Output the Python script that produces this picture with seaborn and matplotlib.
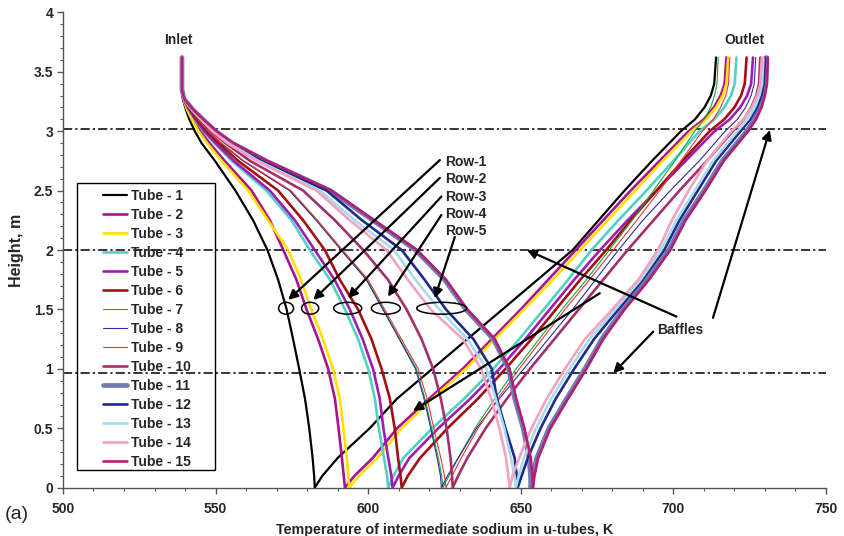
import numpy as np
import pandas as pd
import matplotlib
matplotlib.use("Agg")
import matplotlib.pyplot as plt
import seaborn as sns
from matplotlib.patches import Ellipse, Rectangle

# =========================================================
# DATA
# =========================================================
# heights for the inlet (down) leg and outlet (up) leg, m
h_down = [3.62, 3.35, 3.27, 3.18, 3.1, 3.0, 2.9, 2.75, 2.5, 2.25, 2.0, 1.75, 1.5, 1.25, 1.0, 0.75, 0.5, 0.25, 0.1, 0.0]
h_up = [0.0, 0.1, 0.25, 0.5, 0.75, 1.0, 1.25, 1.5, 1.75, 2.0, 2.25, 2.5, 2.75, 3.0, 3.1, 3.2, 3.3, 3.4, 3.62]

tube_names = ["Tube - %d" % i for i in range(1, 16)]

# inlet leg temperatures, K
t_down = {
    "Tube - 1": [539, 539, 539.3, 540.3, 541.4, 543.2, 545.4, 549.8, 556.5, 562.3, 567, 570.5, 573.3, 575.4, 577.4, 579.3, 580.7, 581.8, 582.3, 582.5],
    "Tube - 2": [539, 539, 539.4, 540.9, 542.6, 545, 548, 553, 561.8, 567.8, 572.2, 576.5, 579.8, 583.6, 586.9, 589.1, 590.3, 591.4, 592, 592.4],
    "Tube - 3": [539, 539, 539.4, 540.7, 542.2, 544.4, 547.2, 552, 560.7, 567.2, 573.8, 578, 581.4, 585.2, 588.5, 590.7, 591.9, 593, 593.5, 593.8],
    "Tube - 4": [539, 539, 539.5, 541.2, 543.2, 546, 549.5, 555.3, 566.7, 574.9, 580.9, 587.5, 592.4, 596.7, 600, 602.2, 603.5, 605.2, 606.2, 606.6],
    "Tube - 5": [539, 539, 539.5, 541.4, 543.4, 546.3, 550, 556, 567.8, 576, 582.5, 589, 594, 598.2, 601.6, 603.8, 605, 606.6, 607.6, 608],
    "Tube - 6": [539, 539, 539.5, 541.6, 543.9, 547, 551, 557.4, 570.5, 578.7, 585.8, 590.7, 596.7, 601.1, 604.4, 607.1, 608.7, 609.8, 610.6, 611],
    "Tube - 7": [539, 539, 539.5, 541.8, 544.2, 547.5, 551.7, 559, 574.4, 583.1, 591.3, 599.6, 605, 610.4, 615.8, 618.6, 620.8, 623, 624.1, 624.5],
    "Tube - 8": [539, 539, 539.5, 541.8, 544.2, 547.5, 551.7, 559, 574.2, 583, 591.1, 599.4, 604.8, 610.2, 615.5, 618.3, 620.5, 622.6, 623.7, 624],
    "Tube - 9": [539, 539, 539.5, 541.8, 544.3, 547.7, 551.9, 559.3, 574.7, 583.4, 591.6, 600, 605.4, 610.9, 616.4, 619.3, 621.5, 623.8, 625, 625.5],
    "Tube - 10": [539, 539, 539.6, 542.1, 544.9, 548.5, 553.2, 561.3, 578.7, 589.1, 598.4, 606.5, 612.6, 617.5, 621.3, 623.8, 625.7, 627, 627.5, 627.7],
    "Tube - 11": [539, 539, 539.7, 542.6, 545.8, 550, 555.4, 566.5, 587.5, 601.5, 615.5, 625, 632, 641, 646, 648, 650.8, 652.7, 653.2, 653.3],
    "Tube - 12": [539, 539, 539.7, 542.5, 545.7, 549.8, 555.1, 565, 586.4, 598, 611, 618.5, 625.5, 634.5, 640.5, 642.2, 645, 648, 648.7, 649],
    "Tube - 13": [539, 539, 539.65, 542.4, 545.4, 549.3, 554.4, 564, 584.2, 595.6, 608.5, 615.5, 623.3, 632.5, 638.8, 641.8, 644.6, 646.8, 647.9, 648.4],
    "Tube - 14": [539, 539, 539.6, 542.3, 545.2, 549, 553.9, 563.4, 583.1, 594, 606, 613, 620.5, 631, 637, 640.3, 643, 645.2, 645.9, 646.4],
    "Tube - 15": [539, 539, 539.7, 542.7, 546, 550.3, 555.8, 567, 588, 602, 616, 625.5, 632.5, 641.5, 646.3, 648.5, 651.2, 653.3, 653.8, 654],
}

# outlet leg temperatures, K
t_up = {
    "Tube - 1": [582.5, 585, 590, 600.5, 609.5, 621, 632.5, 644, 655.5, 667, 675.5, 684, 693, 702.5, 707.1, 710.2, 712.3, 713.4, 714],
    "Tube - 2": [592.4, 595.5, 601.5, 609.5, 620, 631, 640.5, 650, 659, 668, 677, 686, 695.5, 705, 710.0, 713.3, 715.5, 716.8, 717.4],
    "Tube - 3": [593.8, 597, 603, 611, 621, 632, 641.5, 651, 660.5, 669.5, 678.5, 687.5, 696.5, 706, 710.8, 714.0, 716.2, 717.4, 718],
    "Tube - 4": [606.6, 608.3, 611.5, 621, 631.5, 641, 649.5, 657.5, 665.5, 673.2, 682, 691.2, 700, 708.6, 713.4, 716.7, 718.9, 720.1, 720.7],
    "Tube - 5": [608, 610, 613.5, 623, 633.5, 643, 651.5, 659.5, 667.5, 676, 685, 694.5, 704, 713.5, 718.5, 721.9, 724.2, 725.5, 726.1],
    "Tube - 6": [611, 613, 617, 626, 636, 645, 653.5, 661.5, 669.5, 678, 686, 694.5, 703, 711.9, 716.7, 720.0, 722.2, 723.4, 724],
    "Tube - 7": [624.5, 626.5, 629.5, 635, 641.5, 648.5, 656, 663.5, 671.5, 679, 686.5, 693.5, 700.5, 707, 710.1, 712.2, 713.5, 714.3, 714.7],
    "Tube - 8": [624, 626, 629.5, 635.5, 643, 651, 659, 667, 674.5, 682, 690, 699, 708.5, 717, 721.0, 723.7, 725.5, 726.5, 727],
    "Tube - 9": [625.5, 627.5, 630.5, 636, 642.5, 649.5, 657, 664.5, 672.5, 680.3, 688, 695.5, 702.5, 709.5, 713.1, 715.5, 717.2, 718.1, 718.5],
    "Tube - 10": [627.7, 629.5, 632.5, 638.5, 645.5, 653, 661, 669, 677, 685, 693.5, 702, 711, 719.5, 723.1, 725.5, 727.2, 728.1, 728.5],
    "Tube - 11": [653.3, 654, 655.2, 659.2, 665, 671, 676.5, 683.5, 691.5, 698.5, 703.5, 710, 716, 724, 726.6, 728.4, 729.5, 730.2, 730.5],
    "Tube - 12": [649, 650.3, 652.3, 656.5, 661.5, 667.5, 674, 682, 690, 697, 702, 708, 714, 722, 725.2, 727.4, 728.8, 729.6, 730],
    "Tube - 13": [648.4, 649.3, 651, 655, 660, 666, 672.5, 681, 689.3, 696, 701, 707, 713, 721, 724.4, 726.7, 728.2, 729.1, 729.5],
    "Tube - 14": [646.4, 647.3, 649.5, 653.5, 658.5, 664.5, 671, 680, 688.5, 695, 699.5, 705, 711, 719, 723.0, 725.7, 727.5, 728.5, 729],
    "Tube - 15": [654, 654.5, 655.7, 659.7, 665.5, 671.5, 677, 684, 692, 699, 704, 710.5, 716.5, 724.5, 727.1, 728.9, 730.0, 730.7, 731],
}

tube_colors = ["#000000", "#A8138F", "#FFE000", "#52D0C6", "#9E1CB4", "#A30F12", "#18A63A", "#2A2F9C",
               "#E3383C", "#A2306C", "#6F7DB2", "#1E2A8E", "#A8DCEC", "#F2A2C2", "#B31F72"]
tube_widths = [1.6, 1.9, 1.9, 1.9, 1.9, 1.9, 0.8, 0.8, 0.8, 1.9, 3.4, 1.9, 1.9, 1.9, 1.9]

baffle_heights = [3.02, 2.0, 0.965]
row_labels = ["Row-1", "Row-2", "Row-3", "Row-4", "Row-5"]

# =========================================================
# BUILD LONG TABLE (down leg then up leg, one path per tube)
# =========================================================
rows = []
for name in tube_names:
    path_t = t_down[name] + t_up[name]
    path_h = h_down + h_up
    for k, (t, h) in enumerate(zip(path_t, path_h)):
        rows.append({"tube": name, "step": k, "T": t, "h": h})
df = pd.DataFrame(rows)

# =========================================================
# PLOT
# =========================================================
sns.set_style("ticks")
plt.rcParams["font.family"] = ["Liberation Sans", "DejaVu Sans"]
plt.rcParams["font.weight"] = "bold"

fig = plt.figure(figsize=(8.44, 5.36), dpi=100)
ax = fig.add_axes([0.0746, 0.0901, 0.9040, 0.8869])

for name, col, lw in zip(tube_names, tube_colors, tube_widths):
    sns.lineplot(data=df[df["tube"] == name], x="T", y="h", sort=False, estimator=None,
                 color=col, linewidth=lw, label=name, ax=ax)

# baffles
for hb in baffle_heights:
    ax.axhline(hb, color="black", lw=1.1, linestyle=(0, (6, 2, 1.5, 2)), zorder=1)

# row circles at h = 1.5
circles = [(573.1, 4.9), (581.0, 5.6), (593.3, 9.2), (605.8, 9.5), (624.1, 16.4)]
for cx, w in circles:
    ax.add_patch(Ellipse((cx, 1.51), w, 0.10, fill=False, edgecolor="black", lw=1.1, zorder=5))

# row labels with arrows
row_text_h = [2.744, 2.596, 2.45, 2.304, 2.158]
row_heads = [(573.8, 1.58), (582.0, 1.58), (593.4, 1.594), (606.5, 1.608), (621.8, 1.594)]
row_tails = [(623.5, 2.757), (623.5, 2.607), (624.0, 2.45), (624.0, 2.295), (628.4, 2.11)]
for lab, th, head, tail in zip(row_labels, row_text_h, row_heads, row_tails):
    ax.text(625.2, th, lab, fontsize=10, fontweight="bold", va="center", ha="left")
    ax.annotate("", xy=head, xytext=tail,
                arrowprops=dict(arrowstyle="-|>", color="black", lw=1.6,
                                mutation_scale=14, shrinkA=0, shrinkB=0))

# baffles label with arrows
ax.text(702.4, 1.326, "Baffles", fontsize=10, fontweight="bold", va="center", ha="center")
baffle_arrows = [((701.0, 1.44), (652.0, 2.0)), ((693.4, 1.313), (680.3, 0.963)),
                 ((713.0, 1.43), (731.6, 3.01)), ((675.9, 1.636), (614.7, 0.646))]
for tail, head in baffle_arrows:
    ax.annotate("", xy=head, xytext=tail,
                arrowprops=dict(arrowstyle="-|>", color="black", lw=1.6,
                                mutation_scale=14, shrinkA=0, shrinkB=0))

ax.text(537.7, 3.77, "Inlet", fontsize=10, fontweight="bold", ha="center", va="center")
ax.text(723.4, 3.77, "Outlet", fontsize=10, fontweight="bold", ha="center", va="center")

# axes
ax.set_xlim(500, 750)
ax.set_ylim(0, 4)
ax.set_xticks(np.arange(500, 751, 50))
ax.set_xticks(np.arange(500, 751, 10), minor=True)
ax.set_yticks(np.arange(0, 4.01, 0.5))
ax.set_yticks(np.arange(0, 4.01, 0.1), minor=True)
ax.set_yticklabels(["%g" % v for v in np.arange(0, 4.01, 0.5)])
ax.tick_params(axis="both", which="major", direction="out", length=4, width=1, color="#555555",
               labelsize=10, pad=3)
ax.tick_params(axis="both", which="minor", direction="out", length=2.5, width=0.8, color="#555555")
ax.tick_params(axis="x", which="major", pad=6.5)
for lab in ax.get_xticklabels() + ax.get_yticklabels():
    lab.set_fontweight("bold")
sns.despine(ax=ax)
for sp in ["left", "bottom"]:
    ax.spines[sp].set_color("#555555")
    ax.spines[sp].set_linewidth(1.0)

ax.set_xlabel("Temperature of intermediate sodium in u-tubes, K", fontsize=10.3, fontweight="bold", labelpad=5)
ax.set_ylabel("Height, m", fontsize=11.5, fontweight="bold", labelpad=7)
fig.text(0.006, 0.04, "(a)", fontsize=14, fontweight="normal", ha="left", va="center")

# legend: frame drawn separately to match the reference box
ax.add_patch(Rectangle((0.0183, 0.0372), 0.1809, 0.6038, transform=ax.transAxes,
                       fill=False, edgecolor="black", lw=1.0, zorder=6))
leg = ax.legend(loc="upper left", bbox_to_anchor=(0.0524, 0.6294), borderaxespad=0, borderpad=0,
                frameon=False, handlelength=1.75, handletextpad=0.3, labelspacing=0.36,
                prop={"weight": "bold", "size": 10})

fig.savefig("out.png", dpi=100)
